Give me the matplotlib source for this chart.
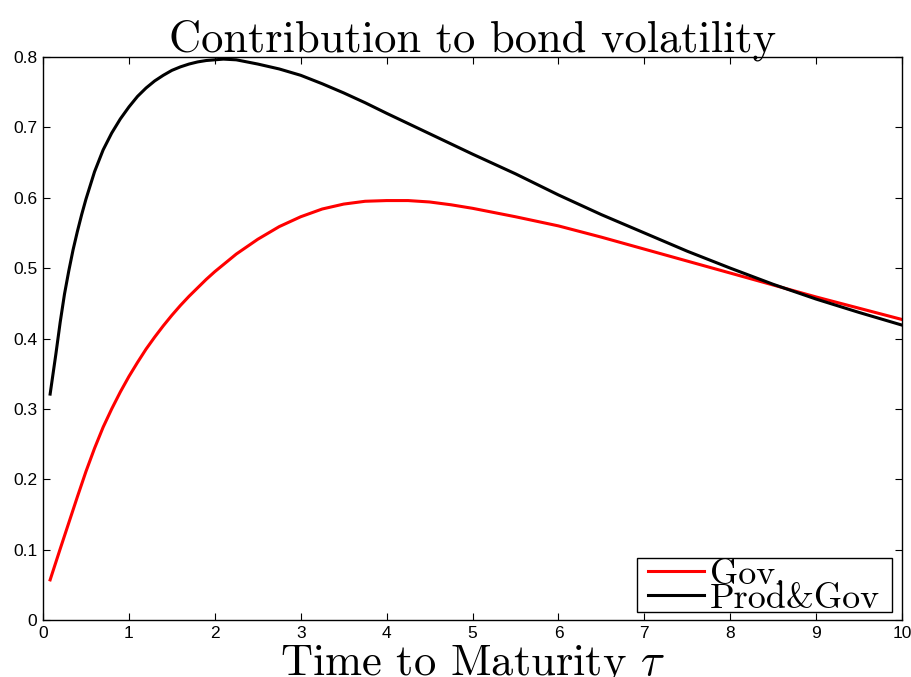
import matplotlib
matplotlib.use('Agg')
import matplotlib.pyplot as plt
from matplotlib.patches import Rectangle

# maturities (years) and volatility contributions
tau_prod_gov = [0.083, 0.15, 0.2, 0.25, 0.3, 0.35, 0.4, 0.45, 0.5, 0.6, 0.7, 0.8,
                0.9, 1.0, 1.1, 1.2, 1.3, 1.4, 1.5, 1.6, 1.7, 1.8, 1.9, 2.0, 2.1,
                2.25, 2.5, 2.75, 3.0, 3.25, 3.5, 3.75, 4.0, 4.5, 5.0, 5.5, 6.0,
                6.5, 7.0, 7.5, 8.0, 8.5, 9.0, 9.5, 10.0]
prod_gov = [0.321, 0.378, 0.423, 0.463, 0.496, 0.526, 0.552, 0.576, 0.598, 0.637,
            0.668, 0.692, 0.712, 0.729, 0.744, 0.756, 0.766, 0.774, 0.781, 0.786,
            0.790, 0.793, 0.795, 0.796, 0.797, 0.796, 0.790, 0.783, 0.774, 0.762,
            0.749, 0.735, 0.720, 0.691, 0.662, 0.634, 0.604, 0.576, 0.550, 0.524,
            0.500, 0.477, 0.456, 0.437, 0.419]

tau_gov = [0.083, 0.2, 0.3, 0.4, 0.5, 0.6, 0.7, 0.8, 0.9, 1.0, 1.1, 1.2, 1.3,
           1.4, 1.5, 1.6, 1.7, 1.8, 1.9, 2.0, 2.25, 2.5, 2.75, 3.0, 3.25, 3.5,
           3.75, 4.0, 4.25, 4.5, 4.75, 5.0, 5.5, 6.0, 6.5, 7.0, 7.5, 8.0, 8.5,
           9.0, 9.5, 10.0]
gov = [0.057, 0.101, 0.138, 0.175, 0.211, 0.244, 0.274, 0.300, 0.324, 0.346,
       0.366, 0.385, 0.402, 0.418, 0.433, 0.447, 0.460, 0.472, 0.484, 0.495,
       0.520, 0.541, 0.559, 0.573, 0.584, 0.591, 0.595, 0.596, 0.596, 0.594,
       0.590, 0.585, 0.573, 0.560, 0.544, 0.527, 0.510, 0.493, 0.476, 0.459,
       0.443, 0.427]

xticks = [0, 1, 2, 3, 4, 5, 6, 7, 8, 9, 10]
yticks = [0, 0.1, 0.2, 0.3, 0.4, 0.5, 0.6, 0.7, 0.8]
ytick_labels = ['0', '0.1', '0.2', '0.3', '0.4', '0.5', '0.6', '0.7', '0.8']

plt.rcParams['mathtext.fontset'] = 'cm'

fig = plt.figure(figsize=(9.11, 6.77), dpi=100)
ax = fig.add_axes([0.0472, 0.0842, 0.9430, 0.8316])

ax.plot(tau_gov, gov, color='red', linewidth=2.2, label='Gov.')
ax.plot(tau_prod_gov, prod_gov, color='black', linewidth=2.2, label='Prod&Gov')

ax.set_xlim(0, 10)
ax.set_ylim(0, 0.8)
ax.set_xticks(xticks)
ax.set_yticks(yticks)
ax.set_yticklabels(ytick_labels)
for lab in ax.get_xticklabels() + ax.get_yticklabels():
    lab.set_fontfamily('Liberation Sans')
    lab.set_fontsize(12.5)
ax.tick_params(direction='in', top=True, right=True, length=5, width=0.8, pad=4)
for s in ax.spines.values():
    s.set_linewidth(1.0)

ax.set_title('Contribution to bond volatility', fontfamily='cmr10', fontsize=32, pad=4)
ax.set_xlabel(r'Time to Maturity $\tau$', fontfamily='cmr10', fontsize=32, labelpad=1.5)

# tight matlab-style legend box, drawn separately from the legend entries
ax.add_patch(Rectangle((0.6915, 0.0142), 0.2969, 0.0960, transform=ax.transAxes,
                       facecolor='white', edgecolor='black', linewidth=1.0,
                       zorder=4, clip_on=False))
leg = ax.legend(loc='lower right', bbox_to_anchor=(0.9744, 0.009),
                prop={'family': 'cmr10', 'size': 26}, frameon=False,
                handlelength=1.55, handletextpad=0.17, labelspacing=-0.22,
                borderpad=0.0, borderaxespad=0.0)
leg.set_zorder(5)

plt.savefig('out.png', dpi=100)
